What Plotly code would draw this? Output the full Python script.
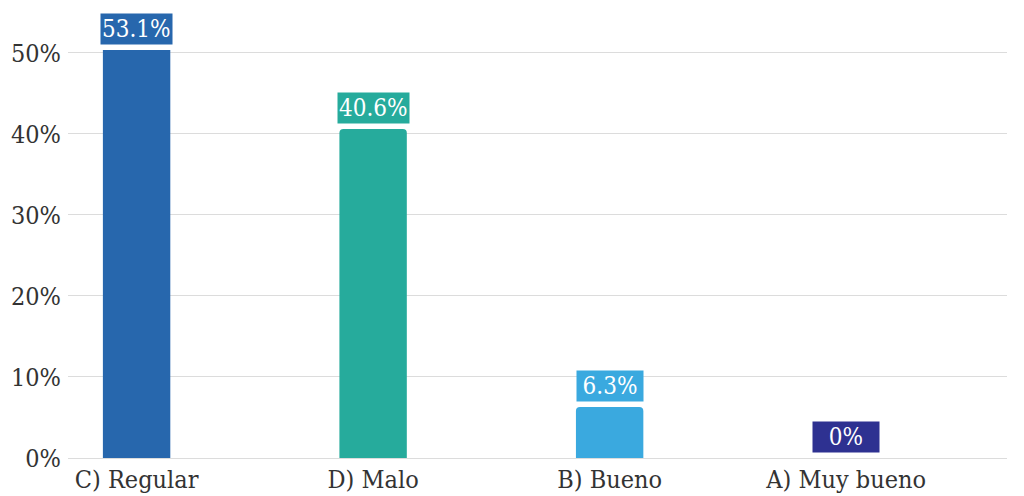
import plotly.graph_objects as go

categories = ["C) Regular", "D) Malo", "B) Bueno", "A) Muy bueno"]
values = [53.1, 40.6, 6.3, 0.0]
value_labels = ["53.1%", "40.6%", "6.3%", "0%"]
colors = ["#2767ad", "#26ab9c", "#3aa9df", "#2e3191"]
y_ticks = [0, 10, 20, 30, 40, 50]
Y_MAX = 50.35

FONT = "DejaVu Serif Condensed, DejaVu Serif"

fig = go.Figure()
fig.add_trace(go.Bar(
    x=categories,
    y=values,
    marker=dict(color=colors, line=dict(width=0)),
    width=0.285,
    hoverinfo="skip",
))

for cat, v, lab, col in zip(categories, values, value_labels, colors):
    fig.add_annotation(
        x=cat, y=min(v, Y_MAX), xref="x", yref="y",
        text=lab, showarrow=False,
        yanchor="bottom", yshift=5,
        font=dict(family=FONT, size=24, color="white"),
        bgcolor=col, borderpad=1,
        width=64 if len(lab) <= 4 else None,
    )

fig.update_layout(
    width=1016, height=488,
    margin=dict(l=60, r=17, t=42, b=38, autoexpand=False),
    paper_bgcolor="white", plot_bgcolor="white",
    showlegend=False,
    barcornerradius=4,
    font=dict(family=FONT, size=25, color="#333333"),
)
fig.update_xaxes(
    type="category",
    range=[-0.29, 3.68],
    automargin=False,
    showgrid=False, showline=False, zeroline=False,
    ticks="", tickfont=dict(family=FONT, size=25, color="#333333"),
    ticklabelstandoff=4,
)
fig.update_yaxes(
    range=[0, Y_MAX],
    automargin=False,
    tickvals=y_ticks,
    ticktext=[f"{t}%" for t in y_ticks],
    showgrid=True, gridcolor="#dcdcdc", gridwidth=1,
    zeroline=True, zerolinecolor="#dcdcdc", zerolinewidth=1,
    showline=False, ticks="",
    tickfont=dict(family=FONT, size=25, color="#333333"),
    ticklabelstandoff=6,
)

fig.write_html("out.html")
